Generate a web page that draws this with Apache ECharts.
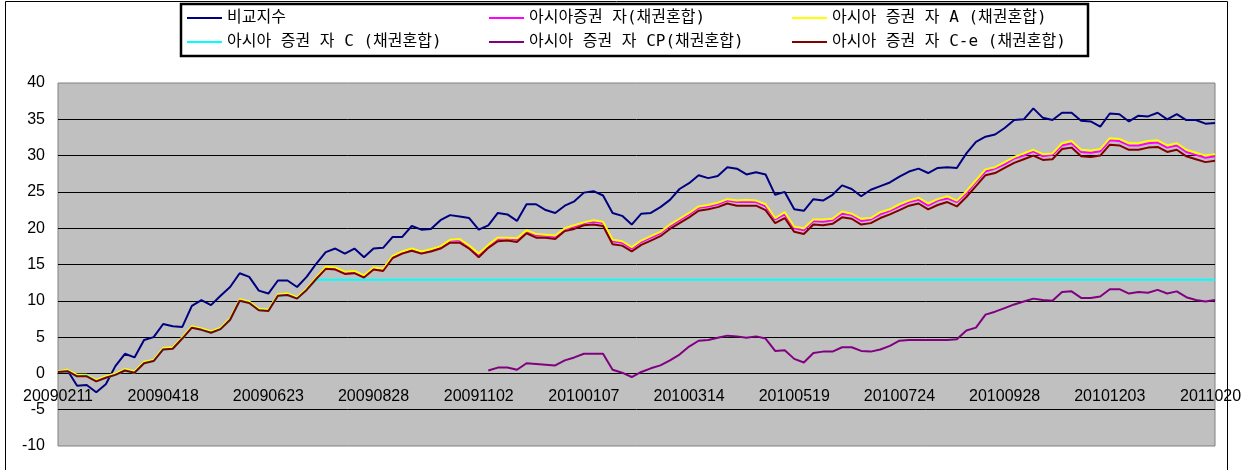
<!DOCTYPE html>
<html>
<head>
<meta charset="utf-8">
<script src="https://cdn.jsdelivr.net/npm/echarts@6/dist/echarts.min.js"></script>
<style>
  html, body { margin: 0; padding: 0; background: #fff; }
  #chart { width: 1241px; height: 470px; }
</style>
</head>
<body>
<div id="chart"></div>
<script>
// category dates: one point every 6 days from 2009-02-11, a label every 11 points
var startDate = Date.UTC(2009, 1, 11);
var stepDays = 6;
var pointCount = 122;
var dates = [];
for (var k = 0; k < pointCount; k++) {
    var d = new Date(startDate + k * stepDays * 86400000);
    var mm = ('0' + (d.getUTCMonth() + 1)).slice(-2);
    var dd = ('0' + d.getUTCDate()).slice(-2);
    dates.push('' + d.getUTCFullYear() + mm + dd);
}

var names = [
    '비교지수',
    '아시아증권 자(채권혼합)',
    '아시아 증권 자 A (채권혼합)',
    '아시아 증권 자 C (채권혼합)',
    '아시아 증권 자 CP(채권혼합)',
    '아시아 증권 자 C-e (채권혼합)'
];

var bench = [
    0.2, 0.4, -1.7, -1.6, -2.6, -1.5, 1.0, 2.7, 2.2, 4.6, 5.0,
    6.8, 6.5, 6.4, 9.3, 10.1, 9.4, 10.7, 11.9, 13.8, 13.3, 11.4,
    11.0, 12.8, 12.8, 11.9, 13.3, 15.1, 16.7, 17.2, 16.5, 17.2, 16.0,
    17.2, 17.3, 18.8, 18.8, 20.3, 19.8, 19.9, 21.1, 21.8, 21.6, 21.4,
    19.8, 20.4, 22.1, 21.9, 21.0, 23.3, 23.3, 22.5, 22.1, 23.1, 23.7,
    24.9, 25.1, 24.5, 22.1, 21.7, 20.5, 22.0, 22.1, 22.9, 23.9, 25.4,
    26.2, 27.3, 26.9, 27.2, 28.4, 28.2, 27.4, 27.7, 27.4, 24.6, 25.0,
    22.6, 22.4, 24.0, 23.8, 24.6, 25.9, 25.4, 24.4, 25.3, 25.8, 26.3,
    27.1, 27.8, 28.2, 27.6, 28.3, 28.4, 28.3, 30.3, 31.9, 32.6, 32.9,
    33.8, 34.9, 35.0, 36.5, 35.2, 34.9, 35.9, 35.9, 34.8, 34.7, 34.0,
    35.8, 35.7, 34.7, 35.5, 35.4, 35.9, 35.0, 35.7, 34.9, 34.9, 34.4,
    34.5
];

var fundJa = [
    0.3, 0.4, -0.3, -0.3, -1.0, -0.5, -0.1, 0.5, 0.2, 1.5, 1.8,
    3.4, 3.5, 4.9, 6.4, 6.1, 5.7, 6.2, 7.5, 10.1, 9.8, 8.8,
    8.7, 10.8, 10.9, 10.4, 11.6, 13.1, 14.6, 14.5, 13.9, 14.0, 13.4,
    14.5, 14.3, 16.1, 16.7, 17.1, 16.7, 17.0, 17.4, 18.3, 18.3, 17.5,
    16.3, 17.6, 18.5, 18.6, 18.4, 19.6, 19.0, 19.0, 18.8, 19.9, 20.2,
    20.7, 20.9, 20.7, 18.2, 18.0, 17.2, 18.1, 18.7, 19.3, 20.3, 21.1,
    21.9, 22.8, 23.0, 23.3, 23.8, 23.6, 23.6, 23.6, 23.0, 21.2, 21.9,
    20.0, 19.7, 21.0, 20.9, 21.1, 22.0, 21.8, 21.0, 21.2, 21.9, 22.4,
    23.0, 23.6, 23.9, 23.1, 23.8, 24.1, 23.6, 24.8, 26.4, 27.8, 28.2,
    28.8, 29.6, 30.0, 30.6, 29.9, 30.1, 31.4, 31.7, 30.5, 30.4, 30.6,
    32.1, 32.0, 31.4, 31.4, 31.7, 31.8, 31.1, 31.4, 30.5, 30.1, 29.7,
    29.9
];

var fundA = [
    0.3, 0.5, -0.2, -0.2, -0.9, -0.4, 0.0, 0.6, 0.3, 1.6, 1.9,
    3.5, 3.6, 5.0, 6.5, 6.2, 5.8, 6.3, 7.6, 10.2, 9.9, 8.9,
    8.8, 10.9, 11.0, 10.5, 11.7, 13.2, 14.7, 14.6, 14.0, 14.1, 13.5,
    14.6, 14.4, 16.2, 16.8, 17.2, 16.8, 17.1, 17.5, 18.4, 18.5, 17.6,
    16.5, 17.7, 18.7, 18.7, 18.6, 19.7, 19.2, 19.1, 19.0, 20.0, 20.4,
    20.8, 21.1, 20.9, 18.4, 18.2, 17.4, 18.3, 18.9, 19.5, 20.5, 21.3,
    22.1, 23.0, 23.2, 23.5, 24.0, 23.8, 23.9, 23.8, 23.3, 21.4, 22.2,
    20.2, 20.0, 21.2, 21.2, 21.3, 22.3, 22.0, 21.3, 21.4, 22.2, 22.6,
    23.3, 23.8, 24.2, 23.4, 24.0, 24.4, 23.8, 25.1, 26.6, 28.1, 28.4,
    29.1, 29.8, 30.3, 30.8, 30.2, 30.3, 31.7, 32.0, 30.8, 30.7, 30.9,
    32.4, 32.3, 31.7, 31.7, 32.0, 32.1, 31.4, 31.7, 30.8, 30.4, 30.0,
    30.2
];

var fundC = [
    0.2, 0.3, -0.4, -0.3, -1.1, -0.6, -0.2, 0.4, 0.1, 1.4, 1.7,
    3.3, 3.4, 4.8, 6.3, 6.0, 5.6, 6.1, 7.4, 10.0, 9.7, 8.7,
    8.6, 10.7, 10.8, 10.3, 11.5, 12.9, 12.9, 12.9, 12.9, 12.9, 12.9,
    12.9, 12.9, 12.9, 12.9, 12.9, 12.9, 12.9, 12.9, 12.9, 12.9, 12.9,
    12.9, 12.9, 12.9, 12.9, 12.9, 12.9, 12.9, 12.9, 12.9, 12.9, 12.9,
    12.9, 12.9, 12.9, 12.9, 12.9, 12.9, 12.9, 12.9, 12.9, 12.9, 12.9,
    12.9, 12.9, 12.9, 12.9, 12.9, 12.9, 12.9, 12.9, 12.9, 12.9, 12.9,
    12.9, 12.9, 12.9, 12.9, 12.9, 12.9, 12.9, 12.9, 12.9, 12.9, 12.9,
    12.9, 12.9, 12.9, 12.9, 12.9, 12.9, 12.9, 12.9, 12.9, 12.9, 12.9,
    12.9, 12.9, 12.9, 12.9, 12.9, 12.9, 12.9, 12.9, 12.9, 12.9, 12.9,
    12.9, 12.9, 12.9, 12.9, 12.9, 12.9, 12.9, 12.9, 12.9, 12.9, 12.9,
    12.9
];

var fundCP = [
    null, null, null, null, null, null, null, null, null, null, null,
    null, null, null, null, null, null, null, null, null, null, null,
    null, null, null, null, null, null, null, null, null, null, null,
    null, null, null, null, null, null, null, null, null, null, null,
    null, 0.4, 0.8, 0.8, 0.5, 1.4, 1.3, 1.2, 1.1, 1.8, 2.2,
    2.7, 2.7, 2.7, 0.5, 0.1, -0.5, 0.2, 0.7, 1.1, 1.8, 2.6,
    3.7, 4.5, 4.6, 4.9, 5.2, 5.1, 4.9, 5.1, 4.8, 3.1, 3.2,
    2.0, 1.5, 2.8, 3.0, 3.0, 3.6, 3.6, 3.1, 3.0, 3.3, 3.8,
    4.5, 4.6, 4.6, 4.6, 4.6, 4.6, 4.7, 5.9, 6.3, 8.1, 8.5,
    9.0, 9.5, 9.9, 10.3, 10.1, 10.0, 11.2, 11.3, 10.4, 10.4, 10.6,
    11.6, 11.6, 11.0, 11.2, 11.1, 11.5, 11.0, 11.3, 10.5, 10.1, 9.9,
    10.1
];

var fundCe = [
    0.2, 0.3, -0.4, -0.4, -1.1, -0.6, -0.2, 0.4, 0.1, 1.4, 1.7,
    3.3, 3.4, 4.8, 6.3, 6.0, 5.6, 6.1, 7.4, 10.0, 9.7, 8.7,
    8.6, 10.7, 10.8, 10.3, 11.5, 13.0, 14.4, 14.3, 13.7, 13.8, 13.2,
    14.3, 14.1, 15.9, 16.5, 16.9, 16.5, 16.8, 17.2, 18.0, 18.0, 17.2,
    16.0, 17.3, 18.2, 18.3, 18.1, 19.3, 18.7, 18.7, 18.5, 19.6, 19.9,
    20.4, 20.5, 20.3, 17.8, 17.6, 16.8, 17.7, 18.3, 18.9, 19.9, 20.7,
    21.5, 22.4, 22.6, 22.9, 23.4, 23.1, 23.1, 23.1, 22.5, 20.7, 21.4,
    19.5, 19.2, 20.5, 20.4, 20.6, 21.5, 21.3, 20.5, 20.7, 21.4, 21.9,
    22.5, 23.1, 23.4, 22.6, 23.2, 23.6, 23.0, 24.3, 25.8, 27.3, 27.6,
    28.3, 29.0, 29.5, 30.0, 29.4, 29.5, 30.9, 31.1, 29.9, 29.8, 30.0,
    31.5, 31.4, 30.8, 30.8, 31.1, 31.2, 30.5, 30.8, 29.9, 29.5, 29.1,
    29.3
];

var colors = ['#000080', '#FF00FF', '#FFFF00', '#00FFFF', '#800080', '#800000'];
var values = [bench, fundJa, fundA, fundC, fundCP, fundCe];

var labelFont = 'Liberation Sans';
var legendFont = "'DejaVu Sans Mono', 'Noto Sans CJK KR', monospace";

function makeLegend(left, items) {
    return {
        left: left,
        top: 10,
        orient: 'vertical',
        padding: 0,
        icon: 'rect',
        itemWidth: 35,
        itemHeight: 2,
        itemGap: 8,
        data: items,
        textStyle: { fontFamily: legendFont, fontSize: 16, lineHeight: 16, color: '#000' }
    };
}

var myChart = echarts.init(document.getElementById('chart'));
myChart.setOption({
    animation: false,
    backgroundColor: '#fff',
    color: colors,
    graphic: [
        {
            type: 'rect',
            z: 1,
            shape: { x: 181, y: 4, width: 907, height: 52 },
            style: { fill: '#fff', stroke: '#000', lineWidth: 2.5 }
        },
        {
            type: 'rect',
            z: 100,
            shape: { x: 5.5, y: 1.5, width: 1222, height: 500 },
            style: { fill: 'none', stroke: '#000', lineWidth: 1 }
        }
    ],
    legend: [
        makeLegend(187, [names[0], names[3]]),
        makeLegend(489, [names[1], names[4]]),
        makeLegend(792, [names[2], names[5]])
    ],
    grid: {
        left: 58,
        right: 26,
        top: 83,
        bottom: 24,
        show: true,
        backgroundColor: '#C0C0C0',
        borderColor: '#808080',
        borderWidth: 1,
        outerBoundsMode: 'none'
    },
    xAxis: {
        type: 'category',
        data: dates,
        boundaryGap: false,
        position: 'bottom',
        // the category axis crosses the value axis at 0, 73px above the plot bottom
        offset: -73,
        axisLine: { onZero: false, lineStyle: { color: '#000', width: 1 } },
        axisTick: { show: false },
        axisLabel: {
            interval: 10,
            margin: 16,
            fontFamily: labelFont,
            fontSize: 16,
            color: '#000'
        },
        splitLine: { show: false }
    },
    yAxis: {
        type: 'value',
        min: -10,
        max: 40,
        interval: 5,
        axisLine: { show: false },
        axisTick: { show: false },
        axisLabel: { margin: 13, fontFamily: labelFont, fontSize: 16, color: '#000' },
        splitLine: {
            show: true,
            showMinLine: false,
            showMaxLine: false,
            lineStyle: { color: '#000', width: 1 }
        }
    },
    series: names.map(function (n, i) {
        return {
            name: n,
            type: 'line',
            data: values[i],
            symbol: 'none',
            showSymbol: false,
            lineStyle: { width: 2, color: colors[i] },
            itemStyle: { color: colors[i] }
        };
    })
});
</script>
</body>
</html>
